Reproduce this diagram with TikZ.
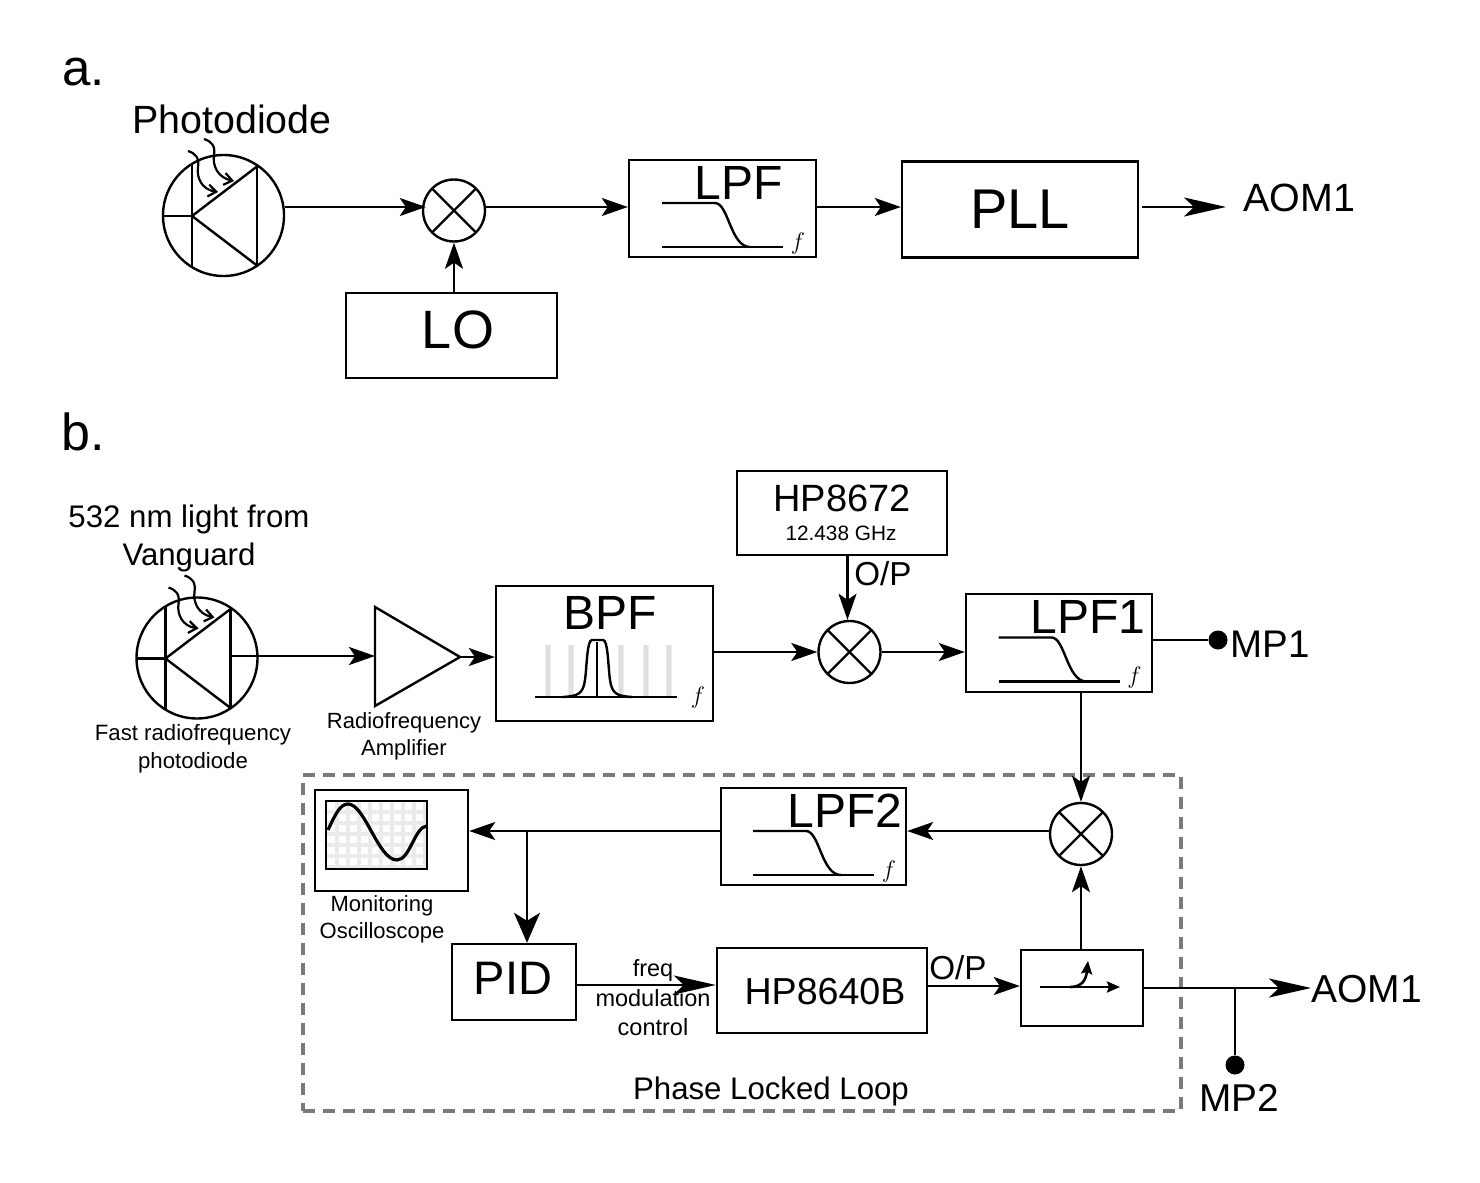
\documentclass[tikz,border=0pt]{standalone}
\usepackage{fontspec}
\setmainfont{Liberation Sans}
\usetikzlibrary{arrows.meta}

\begin{document}
\begin{tikzpicture}[
    x=0.5pt, y=-0.5pt,
    block/.style={rectangle, draw, line width=1.2pt, inner sep=0pt},
    mixer/.style={circle, draw, line width=1.2pt, minimum size=31pt, inner sep=0pt},
    diode/.style={circle, draw, line width=1.2pt, minimum size=60.5pt, inner sep=0pt},
    probe/.style={circle, fill=black, minimum size=9.5pt, inner sep=0pt},
    txt/.style={inner sep=0pt, font=\fontsize{#1}{#1}\selectfont},
    line/.style={line width=1.2pt},
    arrow/.style={-{Stealth[length=13pt, width=9pt, inset=3pt]}, line width=1.1pt},
    longarrow/.style={-{Stealth[length=21pt, width=9.5pt, inset=5pt]}, line width=1.1pt},
    bigarrow/.style={-{Stealth[length=15pt, width=13pt, inset=4pt]}, line width=1.1pt},
    thinarrow/.style={-{Stealth[length=6.5pt, width=5.5pt, inset=1pt]}, line width=1.3pt},
    photon/.style={-{Straight Barb[length=4pt, width=6pt]}, line width=1.1pt},
    fuzz/.style={line width=2pt, black!8},
    loopframe/.style={draw=black!52, line width=2.2pt, dash pattern=on 6pt off 4pt},
    lpfmark/.pic={
        \draw[line] (-60.5,-5.5) -- (-7.5,-5.5) .. controls (6,-5.5) and (8,38.5) .. (27.5,38.5);
        \draw[line] (-60.5,38.5) -- (60.5,38.5);
        \node[txt=12] at (75.5,34.5) {$f$};
    },
    xmark/.pic={
        \draw[line] (-22,-22) -- (22,22);
        \draw[line] (-22,22) -- (22,-22);
    },
    diodemark/.pic={
        \draw[line] (-31.5,-52) -- (-31.5,52);
        \draw[line] (33.5,-49) -- (33.5,50);
        \draw[line] (33.5,-49) -- (-31.5,0.5) -- (33.5,50);
        \draw[line] (-60.5,0.5) -- (-31.5,0.5);
    },
    photons/.pic={
        \draw[photon] (-35.5,-64.5) .. controls (-28,-62) and (-24,-58) .. (-25.5,-48) .. controls (-27,-38) and (-22,-26) .. (-5.5,-23.5);
        \draw[photon] (-19.5,-76.5) .. controls (-12,-74) and (-8,-70) .. (-9.5,-60) .. controls (-11,-50) and (-6,-38) .. (10.5,-34.5);
    }
]
\useasboundingbox (0,0) rectangle (1480,1183);

% Part a
\node[txt=25.5, anchor=base west] (laba) at (62,85) {a.};
\node[txt=19.7] (pdtexta) at (232,119) {Photodiode};
\node[diode] (pda) at (223.5,215.5) {};
\pic at (pda) {diodemark};
\pic at (pda) {photons};
\node[mixer] (mixa) at (454,210.5) {};
\pic at (mixa) {xmark};
\node[block, minimum width=93.5pt, minimum height=48.5pt] (lpfa) at (722.5,208.5) {};
\pic at (lpfa) {lpfmark};
\node[txt=24] (lpfatext) at (739,183) {LPF};
\node[block, txt=28, minimum width=118pt, minimum height=48pt] (pll) at (1020,209.5) {PLL};
\node[txt=19.7, anchor=west] (aoma) at (1243,198) {AOM1};
\coordinate (aomatip) at (1226,207);
\node[block, minimum width=105.5pt, minimum height=42.5pt] (lo) at (451.5,335.5) {};
\node[txt=27] (lotext) at (458,330) {LO};

% Part b
\node[txt=26, anchor=base west] (labb) at (61,450) {b.};
\node[txt=15.6, align=center] (pdtextb) at (189,538.5) {532 nm light from\\[3.6pt]Vanguard};
\node[diode] (pdb) at (197,658) {};
\pic at (pdb) {diodemark};
\pic at ([xshift=3.5pt, yshift=3pt]pdb) {photons};
\coordinate (pdbout) at (231,656);
\node[txt=11.1, align=center] (pdnameb) at (193,749) {Fast radiofrequency\\[2.9pt]photodiode};
\draw[line] (375,607) -- (375,706) -- (460,657) -- cycle;
\coordinate (ampin) at (375,656);
\coordinate (ampout) at (460,657);
\node[txt=11, align=center] (ampname) at (404,736.5) {Radiofrequency\\[2.5pt]Amplifier};
\node[block, minimum width=108.5pt, minimum height=67.5pt] (bpf) at (604.5,653.5) {};
\node[txt=24] (bpftext) at (610,613) {BPF};
\foreach \gx in {548,571,621,646,669} {
    \draw[line width=3pt, black!7] (\gx,645) -- (\gx,697);
    \draw[line width=1.6pt, black!12] (\gx,645) -- (\gx,697);
}
\draw[line] (535,697) -- (677,697);
\draw[line] (597,642) -- (597,697);
\draw[line] (563,697) .. controls (578,696) and (583,694) .. (585,680) .. controls (587,665) and (587,640) .. (592,640) -- (603,640) .. controls (608,640) and (608,665) .. (610,680) .. controls (612,694) and (617,696) .. (632,697);
\node[txt=12] (bpff) at (698,697) {$f$};
\node[block, minimum width=105pt, minimum height=42pt] (hpa) at (842,513) {};
\node[txt=19] (hpatext) at (842,498) {HP8672};
\node[txt=10.4] (hpafreq) at (841,533) {12.438 GHz};
\node[txt=16.6] (oputa) at (883,574) {O/P};
\node[mixer] (mixb) at (849.5,652) {};
\pic at (mixb) {xmark};
\node[block, minimum width=93pt, minimum height=49pt] (lpfb) at (1059,643) {};
\pic at (lpfb) {lpfmark};
\node[txt=24] (lpfbtext) at (1088,617) {LPF1};
\node[probe] (probea) at (1218,640) {};
\node[txt=19.25, anchor=west] (mpa) at (1230,644) {MP1};

% Phase locked loop
\node[loopframe, rectangle, minimum width=439pt, minimum height=168pt, inner sep=0pt] (pllframe) at (742,943) {};
\node[txt=15.6] (pllname) at (771,1091) {Phase Locked Loop};
\node[mixer] (mixc) at (1081,834) {};
\pic at (mixc) {xmark};
\node[block, minimum width=92.5pt, minimum height=48.5pt] (lpfc) at (813.5,836.5) {};
\pic at (lpfc) {lpfmark};
\node[txt=24] (lpfctext) at (845,811) {LPF2};
\node[block, minimum width=76.5pt, minimum height=50.5pt] (scope) at (391.5,840.5) {};
\foreach \gx in {337,348,...,426}
    \draw[fuzz] (\gx,801) -- (\gx,869);
\foreach \gy in {812,823,...,868}
    \draw[fuzz] (326,\gy) -- (427,\gy);
\node[block, minimum width=50.5pt, minimum height=34pt] (screen) at (376.5,835) {};
\draw[line width=1.6pt] (328,830) .. controls (335,815) and (340,804) .. (348,804) .. controls (365,804) and (378,860) .. (397,860) .. controls (410,860) and (415,826) .. (427,826);
\node[txt=11, align=center] (scopename) at (382,919.5) {Monitoring\\[2.2pt]Oscilloscope};
\coordinate (tap) at (527,831);
\node[block, minimum width=62pt, minimum height=38pt] (pid) at (514,982) {};
\node[txt=23.5] (pidtext) at (513,978) {PID};
\node[txt=11.75, align=center] (modtext) at (653,998) {freq\\[3pt]modulation\\[3pt]control};
\node[block, minimum width=105pt, minimum height=42.5pt] (hpb) at (822,990.5) {};
\node[txt=18.8] (hpbtext) at (825,992) {HP8640B};
\node[txt=16.6] (oputb) at (958,968) {O/P};
\node[block, minimum width=61pt, minimum height=38pt] (coupler) at (1082,988) {};
\coordinate (coupin) at (1040,987);
\coordinate (coupout) at (1120,987);
\coordinate (coupside) at (1088,961);
\node[txt=19.5, anchor=west] (aomb) at (1311,989) {AOM1};
\node[probe] (probeb) at (1235,1065) {};
\node[txt=19.4] (mpb) at (1239,1098) {MP2};

% Arrows
\draw[arrow] ([yshift=4.25pt]pda.east) -- ([xshift=2pt, yshift=1.75pt]mixa.west);
\draw[arrow] ([yshift=1.75pt]mixa.east) -- ([yshift=0.75pt]lpfa.west);
\draw[arrow] ([yshift=0.75pt]lpfa.east) -- ([yshift=1.25pt]pll.west);
\draw[longarrow] ([xshift=1.5pt, yshift=1.25pt]pll.east) -- (aomatip);
\draw[arrow] (mixa.south |- lo.north) -- (mixa.south);
\draw[arrow] (pdbout) -- (ampin);
\draw[arrow] (ampout) -- (ampout -| bpf.west);
\draw[arrow] ([yshift=0.75pt]bpf.east) -- (mixb.west);
\draw[arrow] (mixb.east) -- (mixb.east -| lpfb.west);
\draw[arrow] ([xshift=-1pt]mixb.north |- hpa.south) -- ([xshift=-1pt]mixb.north);
\draw[line] ([yshift=1.5pt]lpfb.east) -- (probea);
\draw[arrow] (mixc.north |- lpfb.south) -- (mixc.north);
\draw[arrow] ([yshift=1.5pt]mixc.west) -- ([yshift=2.75pt]lpfc.east);
\draw[arrow] ([yshift=2.75pt]lpfc.west) -- ([yshift=4.75pt]scope.east);
\draw[bigarrow] (tap) -- (tap |- pid.north);
\draw[longarrow] ([yshift=-1.5pt]pid.east) -- ([yshift=2.75pt]hpb.west);
\draw[arrow] ([yshift=2.25pt]hpb.east) -- ([yshift=1pt]coupler.west);
\draw[arrow] (mixc.south |- coupler.north) -- (mixc.south);
\draw[thinarrow] (coupin) -- (coupout);
\draw[thinarrow] (1070,987) .. controls (1082,987) and (1086,980) .. (coupside);
\draw[longarrow] (coupler.east) -- (coupler.east -| aomb.west);
\draw[line] (coupler.east -| probeb) -- (probeb);

\end{tikzpicture}
\end{document}
